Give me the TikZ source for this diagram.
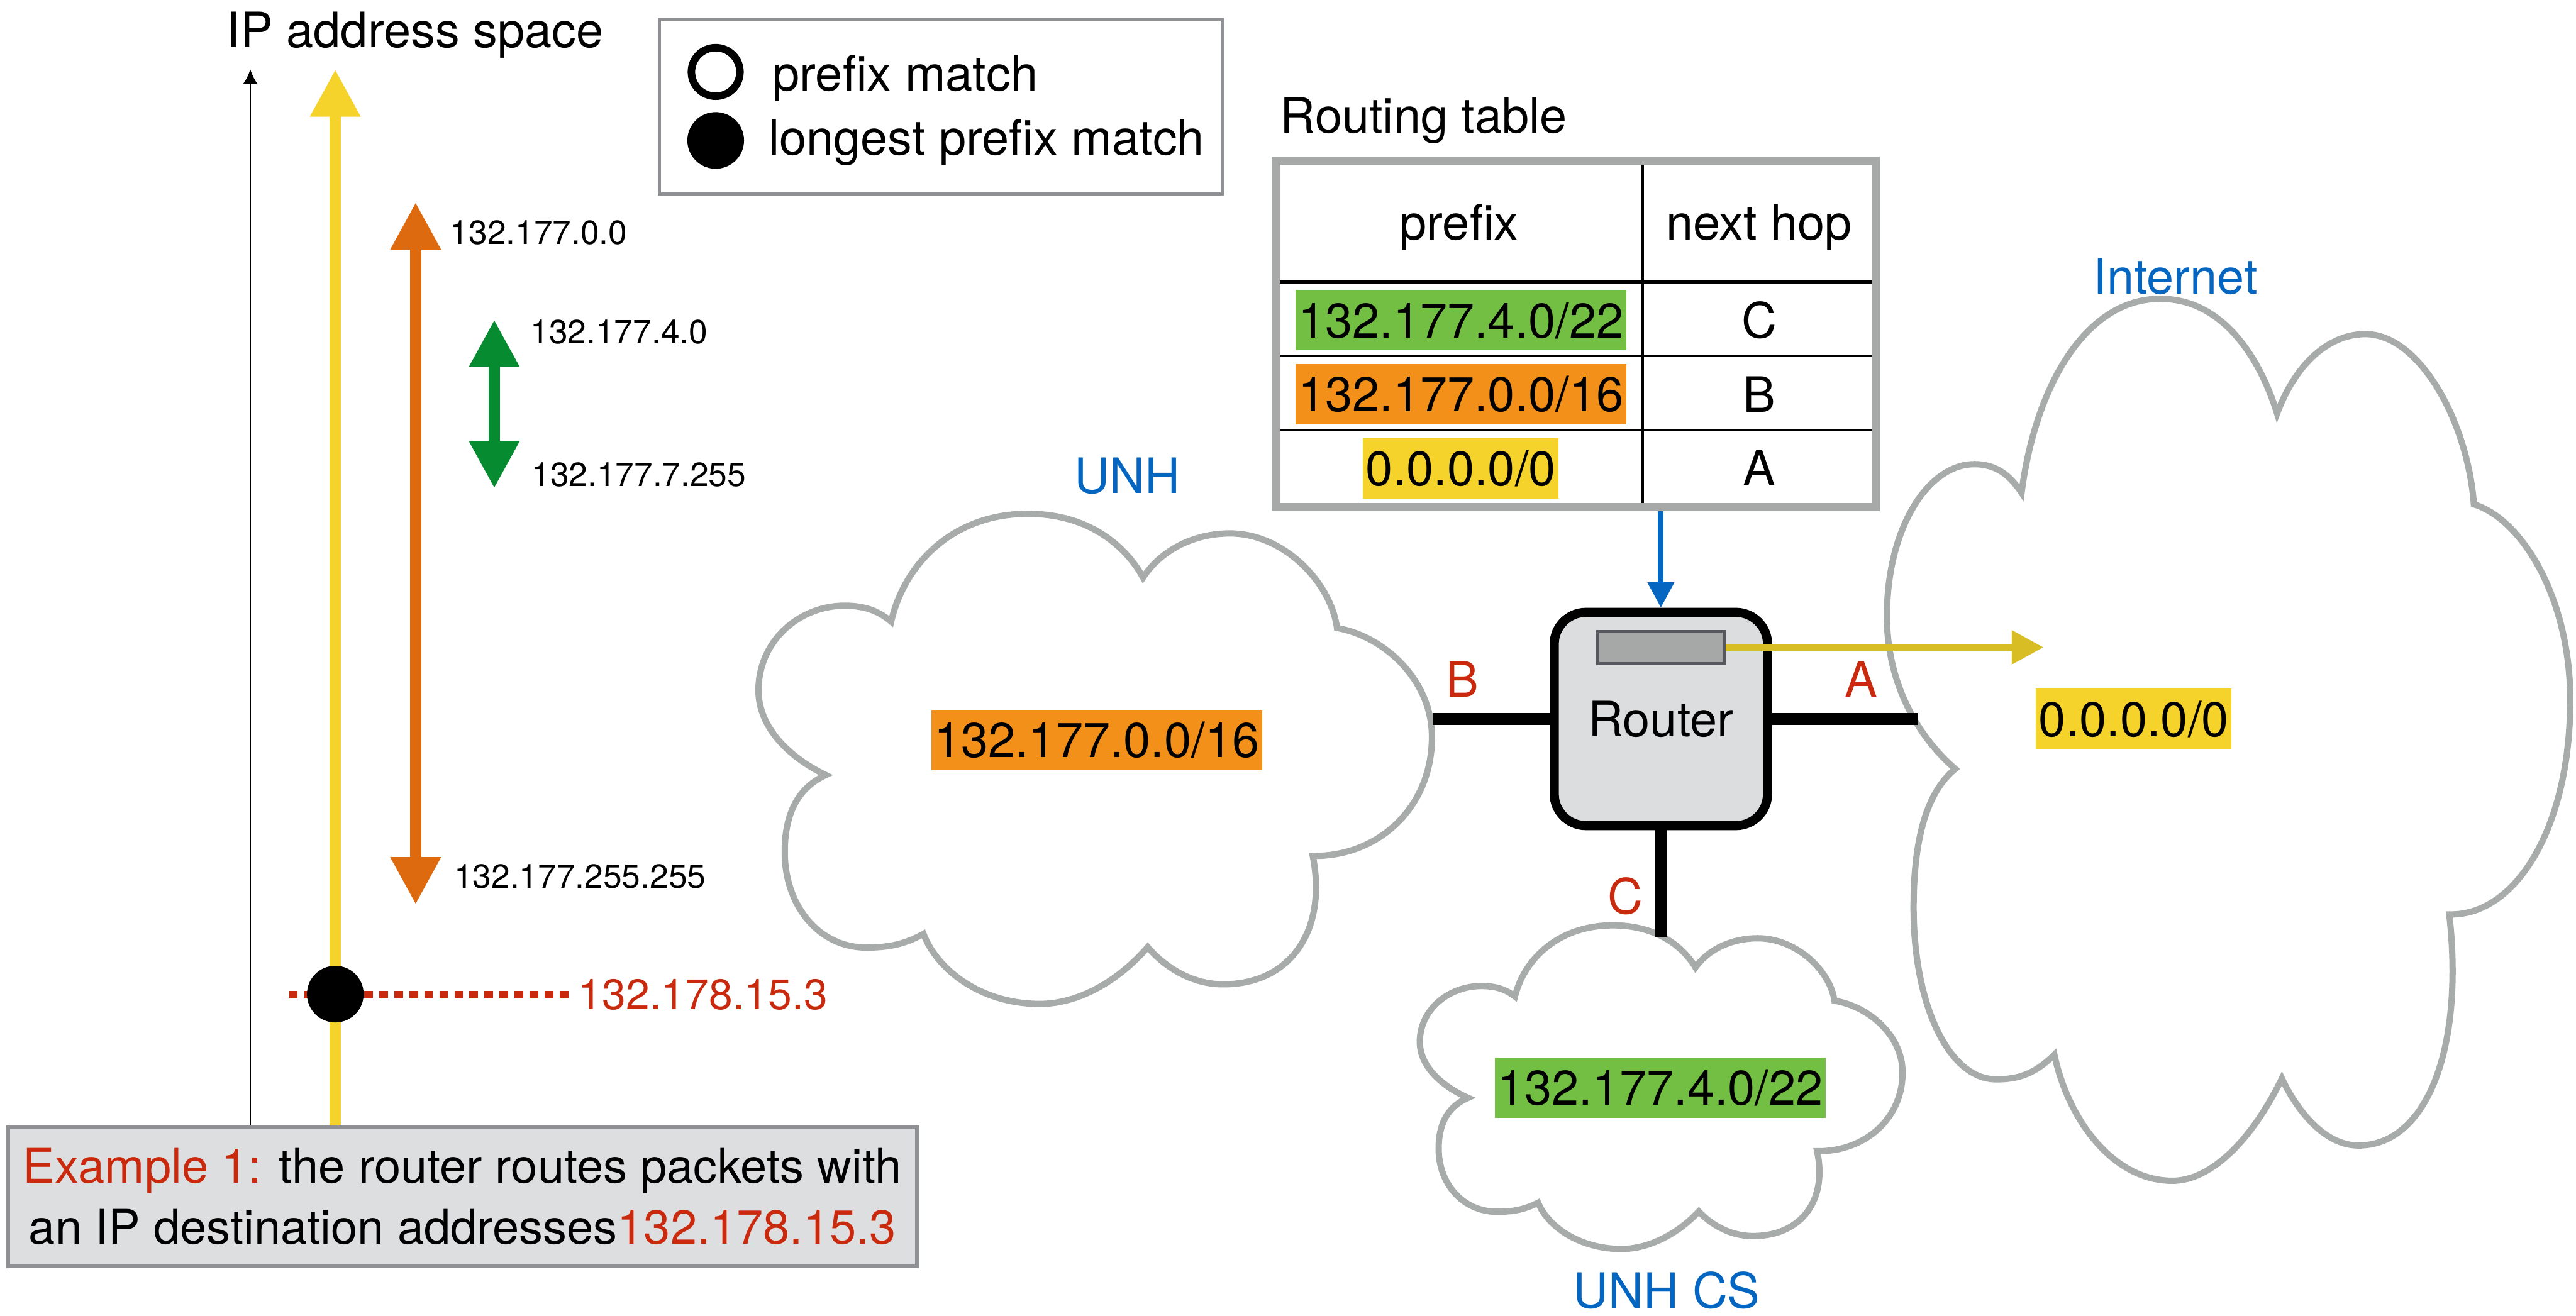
\documentclass[tikz,border=0pt]{standalone}
\usepackage{fontspec}
\setmainfont{TeX Gyre Heros}
\usepackage{tikz}
\usetikzlibrary{arrows.meta}
\definecolor{axisyellow}{HTML}{F6D32B}
\definecolor{axisorange}{HTML}{DE6A10}
\definecolor{axisgreen}{HTML}{068B30}
\definecolor{pfxgreen}{HTML}{72BF44}
\definecolor{pfxorange}{HTML}{F39019}
\definecolor{pfxyellow}{HTML}{F6D32A}
\definecolor{hitred}{HTML}{C92A0E}
\definecolor{netblue}{HTML}{0466C1}
\definecolor{cloudgray}{HTML}{A7ABAA}
\definecolor{framegray}{HTML}{A6A9A8}
\definecolor{edgegray}{HTML}{8E9094}
\definecolor{boxfill}{HTML}{DDDEE0}
\definecolor{routerfill}{HTML}{DCDDDF}
\definecolor{panelfill}{HTML}{A5A8A7}
\definecolor{paneledge}{HTML}{55585F}
\definecolor{hopyellow}{HTML}{D9BD25}
\tikzset{>={Latex[width=0.25cm,length=0.25cm]}}
\tikzset{
  span/.style={line width=0.2cm, >={Triangle[width=0.82cm,length=0.82cm]}},
  addr/.style={anchor=west, inner sep=0pt, font=\fontsize{16.5}{20}\selectfont},
  pfx/.style={fill=#1, text height=17.2pt, text depth=0pt, inner xsep=0.05cm, inner ysep=0.22cm},
  cloudline/.style={draw=cloudgray, line width=3.1pt, fill=white},
  cloudname/.style={text=netblue, inner sep=1pt},
  portname/.style={text=hitred},
  link/.style={line width=5.7pt},
  router/.style={draw, line width=4.5pt, fill=routerfill, rounded corners=0.55cm,
    minimum size=3.69cm, inner sep=0pt},
  panel/.style={draw=paneledge, line width=1.4pt, fill=panelfill,
    minimum width=2.19cm, minimum height=0.56cm, inner sep=0pt},
  feed/.style={draw=netblue, line width=2.8pt, -{Triangle[width=0.44cm,length=0.44cm]}},
  hop/.style={draw=hopyellow, line width=3.5pt, -{Triangle[width=0.56cm,length=0.55cm]}},
  tblframe/.style={draw=framegray, line width=4pt, minimum width=10.38cm,
    minimum height=5.99cm, inner sep=0pt},
  rowline/.style={line width=1.3pt},
  legendbox/.style={draw=edgegray, line width=1.5pt, minimum width=9.73cm, minimum height=3.03cm},
  notebox/.style={draw=edgegray, line width=1.7pt, fill=boxfill, minimum width=15.72cm,
    minimum height=2.41cm, align=center, font=\fontsize{23.5}{30}\selectfont},
  probe/.style={draw=hitred, line width=4pt, dash pattern=on 0.15cm off 0.11cm},
  hitlbl/.style={text=hitred, anchor=west, inner xsep=0.15cm, font=\fontsize{21}{24}\selectfont},
  lpmdot/.style={circle, fill, minimum size=0.98cm, inner sep=0pt},
  pmring/.style={circle, draw, line width=0.13cm, minimum size=0.84cm, inner sep=0pt},
  netcloud/.pic={
    \draw[cloudline] (0.10,0.467) .. controls (0.05,0.50) and (0,0.56) .. (0,0.64)
      .. controls (0,0.74) and (0.06,0.8125) .. (0.128,0.8125)
      .. controls (0.16,0.8125) and (0.18,0.80) .. (0.197,0.78)
      .. controls (0.217,0.90) and (0.29,1) .. (0.40,1)
      .. controls (0.49,1) and (0.545,0.935) .. (0.571,0.87)
      .. controls (0.60,0.93) and (0.65,0.96) .. (0.70,0.96)
      .. controls (0.78,0.96) and (0.85,0.86) .. (0.859,0.767)
      .. controls (0.93,0.75) and (1,0.66) .. (1,0.545)
      .. controls (1,0.40) and (0.92,0.30) .. (0.823,0.302)
      .. controls (0.845,0.15) and (0.79,0.04) .. (0.69,0.04)
      .. controls (0.64,0.04) and (0.60,0.08) .. (0.578,0.116)
      .. controls (0.53,0.04) and (0.47,0) .. (0.418,0)
      .. controls (0.33,0) and (0.265,0.07) .. (0.245,0.143)
      .. controls (0.215,0.12) and (0.19,0.115) .. (0.16,0.115)
      .. controls (0.09,0.115) and (0.039,0.20) .. (0.039,0.31)
      .. controls (0.039,0.40) and (0.065,0.445) .. (0.10,0.467) -- cycle;
  }
}

\begin{document}
\begin{tikzpicture}[font=\fontsize{24}{30}\selectfont]
	\useasboundingbox (0,0) rectangle (44.56,-22.76);
	% address space
	\node[anchor=base] (axisname) at (7.18,-0.82) {IP address space};
	\node[notebox] (ex) at (8.00,-20.705)
		{\textcolor{hitred}{Example 1:} the router routes packets with\\
		 an IP destination addresses\textcolor{hitred}{132.178.15.3}};
	\coordinate (axtop) at (4.33,-1.20);
	\coordinate (ytop) at (5.80,-1.20);
	\draw[line width=0.9pt,->] (ex.north -| axtop) -- (axtop);
	\draw[span,axisyellow,->] (ex.north -| ytop) -- (ytop);
	\coordinate (otop) at (7.19,-3.50);
	\coordinate (obot) at (7.19,-15.65);
	\coordinate (gtop) at (8.55,-5.53);
	\coordinate (gbot) at (8.55,-8.45);
	\draw[span,axisorange,<->] (obot) -- (otop);
	\draw[span,axisgreen,<->] (gbot) -- (gtop);
	\node[addr] (olo) at (7.78,-4.02) {132.177.0.0};
	\node[addr] (ohi) at (7.85,-15.17) {132.177.255.255};
	\node[addr] (glo) at (9.17,-5.74) {132.177.4.0};
	\node[addr] (ghi) at (9.19,-8.21) {132.177.7.255};
	% the destination address
	\node[hitlbl] (hitaddr) at (9.85,-17.21) {132.178.15.3};
	\coordinate (hitfrom) at (5.00,-17.21);
	\draw[probe] (hitfrom) -- (hitaddr.west);
	\node[lpmdot] (hit) at (5.80,-17.20) {};
	% legend
	\node[legendbox] (legend) at (16.275,-1.845) {};
	\node[pmring] (pm) at (12.38,-1.245) {};
	\node[lpmdot] (lpm) at (12.38,-2.43) {};
	\node[anchor=base west, inner sep=0pt] (pmtext) at (13.36,-1.57) {prefix match};
	\node[anchor=base west, inner sep=0pt] (lpmtext) at (13.29,-2.68) {longest prefix match};
	% routing table
	\node[anchor=base west, inner sep=0pt] (tblname) at (22.14,-2.30) {Routing table};
	\foreach \ry in {-4.88,-6.16,-7.44}
		\draw[rowline] (22.14,\ry) -- (32.38,\ry);
	\draw[rowline] (28.41,-2.85) -- (28.41,-8.70);
	\node[tblframe] (rtable) at (27.26,-5.775) {};
	\node[anchor=base] (hpfx) at (25.24,-4.15) {prefix};
	\node[anchor=base] (hnext) at (30.43,-4.15) {next hop};
	\foreach \ry/\cellcol/\netpfx/\nexthop in {-5.54/pfxgreen/{132.177.4.0/22}/C,
		-6.82/pfxorange/{132.177.0.0/16}/B,-8.10/pfxyellow/{0.0.0.0/0}/A}
	   {\node[pfx=\cellcol] (row\nexthop) at (25.27,\ry) {\netpfx};
		\node (via\nexthop) at (30.43,\ry) {\nexthop};}
	% networks
	\pic[xscale=11.65,yscale=8.48] (unh) at (13.12,-17.37) {netcloud};
	\pic[xscale=8.35,yscale=5.60] (unhcs) at (24.56,-21.61) {netcloud};
	\pic[xscale=11.82,yscale=15.26] (inet) at (32.64,-20.43) {netcloud};
	\node[cloudname] (unhname) at (19.50,-8.24) {UNH};
	\node[cloudname] (csname) at (28.83,-22.33) {UNH CS};
	\node[cloudname] (netname) at (37.63,-4.78) {Internet};
	\node[pfx=pfxorange] (unhpfx) at (18.97,-12.80) {132.177.0.0/16};
	\node[pfx=pfxgreen] (cspfx) at (28.72,-18.82) {132.177.4.0/22};
	\node[pfx=pfxyellow] (netpfx) at (36.91,-12.44) {0.0.0.0/0};
	% router and its ports
	\node[router] (router) at (28.73,-12.44) {Router};
	\node[panel] (panel) at (28.73,-11.20) {};
	\coordinate (unhport) at (24.78,-12.44);
	\coordinate (netport) at (33.17,-12.44);
	\coordinate (csport) at (28.73,-16.22);
	\draw[link] (unhport) -- (router.west);
	\draw[link] (router.east) -- (netport);
	\draw[link] (router.south) -- (csport);
	\node[portname] (portB) at (25.30,-11.75) {B};
	\node[portname] (portA) at (32.19,-11.75) {A};
	\node[portname] (portC) at (28.12,-15.50) {C};
	\draw[feed] (rtable.south -| router.north) -- (router.north);
	\coordinate (hoptip) at (35.35,-11.20);
	\draw[hop] (panel.east) -- (hoptip);
\end{tikzpicture}
\end{document}
